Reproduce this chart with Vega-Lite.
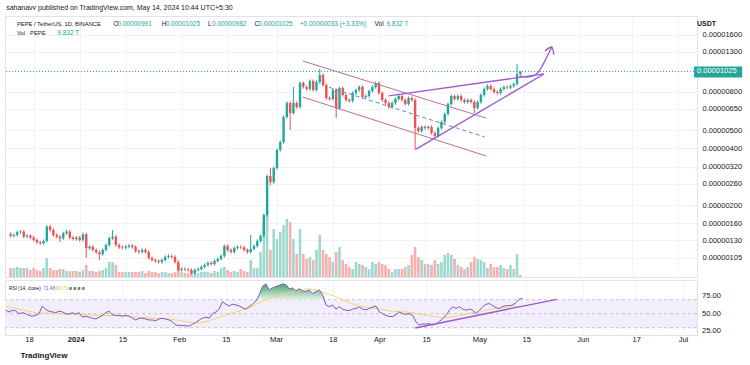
{
"$schema":"https://vega.github.io/schema/vega-lite/v6.json",
"background":"#ffffff",
"padding":{"left":3,"top":3,"right":2,"bottom":2},
"title":{"text":"sahanavv published on TradingView.com, May 14, 2024 10:44 UTC+5:30","anchor":"start","fontSize":7,"fontWeight":"normal","color":"#131722","font":"Liberation Sans","offset":5,"dx":3},
"config":{"font":"Liberation Sans","view":{"stroke":"#e0e3eb","strokeWidth":1},"axis":{"labelFont":"Liberation Sans","labelFontSize":7.5,"labelColor":"#131722","domainColor":"#e0e3eb","gridColor":"#f0f3fa","ticks":false,"title":null},"text":{"font":"Liberation Sans"}},
"spacing":1,
"resolve":{"scale":{"x":"independent"}},
"datasets":{
"k":[
{"d":"2023-12-11","o":1.408e-6,"h":1.436e-6,"l":1.350e-6,"c":1.378e-6,"v":45,"r":55,"m":60.5},
{"d":"2023-12-12","o":1.378e-6,"h":1.418e-6,"l":1.350e-6,"c":1.390e-6,"v":45,"r":52.5,"m":59.5},
{"d":"2023-12-13","o":1.390e-6,"h":1.467e-6,"l":1.362e-6,"c":1.438e-6,"v":50,"r":55,"m":58.5},
{"d":"2023-12-14","o":1.438e-6,"h":1.478e-6,"l":1.409e-6,"c":1.449e-6,"v":45,"r":54,"m":57.5},
{"d":"2023-12-15","o":1.449e-6,"h":1.478e-6,"l":1.335e-6,"c":1.362e-6,"v":45,"r":50,"m":56.5},
{"d":"2023-12-16","o":1.362e-6,"h":1.406e-6,"l":1.335e-6,"c":1.378e-6,"v":45,"r":51.5,"m":55.5},
{"d":"2023-12-17","o":1.378e-6,"h":1.406e-6,"l":1.319e-6,"c":1.346e-6,"v":35,"r":50,"m":54.5},
{"d":"2023-12-18","o":1.346e-6,"h":1.373e-6,"l":1.282e-6,"c":1.308e-6,"v":45,"r":47.5,"m":53.5},
{"d":"2023-12-19","o":1.308e-6,"h":1.334e-6,"l":1.246e-6,"c":1.271e-6,"v":35,"r":46.5,"m":52.5},
{"d":"2023-12-20","o":1.271e-6,"h":1.296e-6,"l":1.231e-6,"c":1.256e-6,"v":30,"r":47.5,"m":51.5},
{"d":"2023-12-21","o":1.256e-6,"h":1.318e-6,"l":1.231e-6,"c":1.292e-6,"v":45,"r":50,"m":51},
{"d":"2023-12-22","o":1.292e-6,"h":1.570e-6,"l":1.266e-6,"c":1.539e-6,"v":95,"r":61,"m":51},
{"d":"2023-12-23","o":1.539e-6,"h":1.570e-6,"l":1.448e-6,"c":1.478e-6,"v":45,"r":56,"m":50.8},
{"d":"2023-12-24","o":1.478e-6,"h":1.508e-6,"l":1.362e-6,"c":1.390e-6,"v":35,"r":53.5,"m":50.5},
{"d":"2023-12-25","o":1.390e-6,"h":1.418e-6,"l":1.335e-6,"c":1.362e-6,"v":35,"r":52.5,"m":50.2},
{"d":"2023-12-26","o":1.362e-6,"h":1.389e-6,"l":1.276e-6,"c":1.336e-6,"v":40,"r":51.5,"m":50},
{"d":"2023-12-27","o":1.336e-6,"h":1.448e-6,"l":1.309e-6,"c":1.420e-6,"v":40,"r":53.5,"m":49.8},
{"d":"2023-12-28","o":1.420e-6,"h":1.478e-6,"l":1.392e-6,"c":1.449e-6,"v":30,"r":52.5,"m":49.5},
{"d":"2023-12-29","o":1.449e-6,"h":1.478e-6,"l":1.319e-6,"c":1.346e-6,"v":30,"r":50,"m":49.2},
{"d":"2023-12-30","o":1.346e-6,"h":1.373e-6,"l":1.298e-6,"c":1.324e-6,"v":30,"r":49.5,"m":49},
{"d":"2023-12-31","o":1.324e-6,"h":1.373e-6,"l":1.298e-6,"c":1.346e-6,"v":30,"r":51.5,"m":48.8},
{"d":"2024-01-01","o":1.346e-6,"h":1.373e-6,"l":1.282e-6,"c":1.308e-6,"v":25,"r":49.5,"m":48.6},
{"d":"2024-01-02","o":1.308e-6,"h":1.431e-6,"l":1.282e-6,"c":1.403e-6,"v":35,"r":51.5,"m":48.5},
{"d":"2024-01-03","o":1.403e-6,"h":1.431e-6,"l":1.050e-6,"c":1.182e-6,"v":60,"r":45,"m":48.3},
{"d":"2024-01-04","o":1.182e-6,"h":1.229e-6,"l":1.158e-6,"c":1.205e-6,"v":30,"r":46.5,"m":48.2},
{"d":"2024-01-05","o":1.205e-6,"h":1.229e-6,"l":1.134e-6,"c":1.157e-6,"v":30,"r":45,"m":48},
{"d":"2024-01-06","o":1.157e-6,"h":1.180e-6,"l":1.103e-6,"c":1.126e-6,"v":25,"r":43.5,"m":47.8},
{"d":"2024-01-07","o":1.126e-6,"h":1.149e-6,"l":1.024e-6,"c":1.099e-6,"v":30,"r":42.5,"m":47.6},
{"d":"2024-01-08","o":1.099e-6,"h":1.180e-6,"l":1.077e-6,"c":1.157e-6,"v":35,"r":45,"m":47.5},
{"d":"2024-01-09","o":1.157e-6,"h":1.255e-6,"l":1.134e-6,"c":1.230e-6,"v":45,"r":47.5,"m":47.5},
{"d":"2024-01-10","o":1.230e-6,"h":1.363e-6,"l":1.205e-6,"c":1.336e-6,"v":75,"r":51.5,"m":47.5},
{"d":"2024-01-11","o":1.336e-6,"h":1.478e-6,"l":1.309e-6,"c":1.362e-6,"v":75,"r":53.5,"m":47.5},
{"d":"2024-01-12","o":1.362e-6,"h":1.389e-6,"l":1.205e-6,"c":1.230e-6,"v":60,"r":48.5,"m":47.4},
{"d":"2024-01-13","o":1.230e-6,"h":1.255e-6,"l":1.172e-6,"c":1.196e-6,"v":25,"r":47.5,"m":47.3},
{"d":"2024-01-14","o":1.196e-6,"h":1.220e-6,"l":1.166e-6,"c":1.190e-6,"v":25,"r":47.5,"m":47.2},
{"d":"2024-01-15","o":1.190e-6,"h":1.229e-6,"l":1.166e-6,"c":1.205e-6,"v":25,"r":46.5,"m":47},
{"d":"2024-01-16","o":1.205e-6,"h":1.244e-6,"l":1.181e-6,"c":1.220e-6,"v":25,"r":47.5,"m":46.6},
{"d":"2024-01-17","o":1.220e-6,"h":1.244e-6,"l":1.177e-6,"c":1.201e-6,"v":25,"r":46.5,"m":46.2},
{"d":"2024-01-18","o":1.201e-6,"h":1.225e-6,"l":1.120e-6,"c":1.143e-6,"v":25,"r":43.5,"m":45.8},
{"d":"2024-01-19","o":1.143e-6,"h":1.166e-6,"l":1.107e-6,"c":1.130e-6,"v":25,"r":41,"m":45.3},
{"d":"2024-01-20","o":1.130e-6,"h":1.180e-6,"l":1.107e-6,"c":1.157e-6,"v":30,"r":43.5,"m":45},
{"d":"2024-01-21","o":1.157e-6,"h":1.180e-6,"l":1.107e-6,"c":1.130e-6,"v":20,"r":43.5,"m":44.7},
{"d":"2024-01-22","o":1.130e-6,"h":1.153e-6,"l":1.029e-6,"c":1.050e-6,"v":30,"r":42.5,"m":44.4},
{"d":"2024-01-23","o":1.050e-6,"h":1.071e-6,"l":1.004e-6,"c":1.024e-6,"v":25,"r":41,"m":44},
{"d":"2024-01-24","o":1.024e-6,"h":1.044e-6,"l":9.92e-7,"c":1.012e-6,"v":25,"r":41,"m":43.7},
{"d":"2024-01-25","o":1.012e-6,"h":1.032e-6,"l":9.80e-7,"c":1.000e-6,"v":20,"r":40,"m":43.4},
{"d":"2024-01-26","o":1.000e-6,"h":1.044e-6,"l":9.80e-7,"c":1.024e-6,"v":25,"r":42.5,"m":43.1},
{"d":"2024-01-27","o":1.024e-6,"h":1.084e-6,"l":1.004e-6,"c":1.063e-6,"v":25,"r":43.5,"m":42.9},
{"d":"2024-01-28","o":1.063e-6,"h":1.098e-6,"l":1.042e-6,"c":1.076e-6,"v":20,"r":42.5,"m":42.7},
{"d":"2024-01-29","o":1.076e-6,"h":1.098e-6,"l":1.042e-6,"c":1.063e-6,"v":20,"r":41,"m":42.5},
{"d":"2024-01-30","o":1.063e-6,"h":1.084e-6,"l":9.80e-7,"c":1.000e-6,"v":25,"r":38.5,"m":41.8},
{"d":"2024-01-31","o":1.000e-6,"h":1.020e-6,"l":8.88e-7,"c":9.06e-7,"v":60,"r":33.5,"m":41},
{"d":"2024-02-01","o":9.06e-7,"h":9.36e-7,"l":8.88e-7,"c":9.18e-7,"v":25,"r":33.5,"m":40.2},
{"d":"2024-02-02","o":9.18e-7,"h":9.36e-7,"l":8.94e-7,"c":9.12e-7,"v":20,"r":33,"m":39.3},
{"d":"2024-02-03","o":9.12e-7,"h":9.30e-7,"l":8.88e-7,"c":9.06e-7,"v":20,"r":33,"m":38.5},
{"d":"2024-02-04","o":9.06e-7,"h":9.24e-7,"l":8.57e-7,"c":8.74e-7,"v":30,"r":32,"m":37.8},
{"d":"2024-02-05","o":8.74e-7,"h":9.24e-7,"l":8.57e-7,"c":9.06e-7,"v":20,"r":35,"m":37.2},
{"d":"2024-02-06","o":9.06e-7,"h":9.36e-7,"l":8.88e-7,"c":9.18e-7,"v":20,"r":37.5,"m":37},
{"d":"2024-02-07","o":9.18e-7,"h":9.60e-7,"l":9.00e-7,"c":9.41e-7,"v":25,"r":41,"m":37.2},
{"d":"2024-02-08","o":9.41e-7,"h":9.83e-7,"l":9.22e-7,"c":9.64e-7,"v":25,"r":43.5,"m":37.8},
{"d":"2024-02-09","o":9.64e-7,"h":1.008e-6,"l":9.45e-7,"c":9.88e-7,"v":25,"r":45,"m":38.8},
{"d":"2024-02-10","o":9.88e-7,"h":1.008e-6,"l":9.56e-7,"c":9.76e-7,"v":20,"r":43.5,"m":40},
{"d":"2024-02-11","o":9.76e-7,"h":1.032e-6,"l":9.56e-7,"c":1.012e-6,"v":30,"r":50,"m":41.5},
{"d":"2024-02-12","o":1.012e-6,"h":1.058e-6,"l":9.92e-7,"c":1.037e-6,"v":25,"r":52.5,"m":43},
{"d":"2024-02-13","o":1.037e-6,"h":1.098e-6,"l":1.016e-6,"c":1.076e-6,"v":45,"r":56.5,"m":45},
{"d":"2024-02-14","o":1.076e-6,"h":1.239e-6,"l":1.054e-6,"c":1.215e-6,"v":50,"r":67.2,"m":46.5},
{"d":"2024-02-15","o":1.215e-6,"h":1.239e-6,"l":1.134e-6,"c":1.157e-6,"v":35,"r":63.5,"m":48},
{"d":"2024-02-16","o":1.157e-6,"h":1.180e-6,"l":1.107e-6,"c":1.130e-6,"v":25,"r":61,"m":49.5},
{"d":"2024-02-17","o":1.130e-6,"h":1.210e-6,"l":1.107e-6,"c":1.186e-6,"v":30,"r":63.5,"m":51},
{"d":"2024-02-18","o":1.186e-6,"h":1.225e-6,"l":1.162e-6,"c":1.201e-6,"v":25,"r":62.5,"m":52.5},
{"d":"2024-02-19","o":1.201e-6,"h":1.225e-6,"l":1.171e-6,"c":1.195e-6,"v":40,"r":61,"m":54},
{"d":"2024-02-20","o":1.195e-6,"h":1.219e-6,"l":1.134e-6,"c":1.157e-6,"v":30,"r":58.5,"m":55.5},
{"d":"2024-02-21","o":1.157e-6,"h":1.180e-6,"l":1.107e-6,"c":1.130e-6,"v":25,"r":56.5,"m":57},
{"d":"2024-02-22","o":1.130e-6,"h":1.390e-6,"l":1.107e-6,"c":1.172e-6,"v":85,"r":60,"m":58.5},
{"d":"2024-02-23","o":1.172e-6,"h":1.239e-6,"l":1.149e-6,"c":1.215e-6,"v":45,"r":63.5,"m":61},
{"d":"2024-02-24","o":1.215e-6,"h":1.318e-6,"l":1.191e-6,"c":1.292e-6,"v":45,"r":68,"m":63,"ob":70},
{"d":"2024-02-25","o":1.292e-6,"h":1.401e-6,"l":1.266e-6,"c":1.374e-6,"v":125,"r":77,"m":65.5,"ob":77},
{"d":"2024-02-26","o":1.374e-6,"h":1.808e-6,"l":1.347e-6,"c":1.773e-6,"v":265,"r":89,"m":68,"ob":89},
{"d":"2024-02-27","o":1.773e-6,"h":2.913e-6,"l":1.738e-6,"c":2.856e-6,"v":335,"r":92.5,"m":70,"ob":92.5},
{"d":"2024-02-28","o":2.856e-6,"h":3.149e-6,"l":2.550e-6,"c":2.654e-6,"v":135,"r":84,"m":72,"ob":84},
{"d":"2024-02-29","o":2.654e-6,"h":3.212e-6,"l":2.601e-6,"c":3.149e-6,"v":240,"r":87,"m":73.5,"ob":87},
{"d":"2024-03-01","o":3.149e-6,"h":4.002e-6,"l":3.086e-6,"c":3.924e-6,"v":190,"r":89,"m":75,"ob":89},
{"d":"2024-03-02","o":3.924e-6,"h":4.414e-6,"l":3.846e-6,"c":4.327e-6,"v":225,"r":90.5,"m":76.5,"ob":90.5},
{"d":"2024-03-03","o":4.327e-6,"h":5.990e-6,"l":4.240e-6,"c":5.873e-6,"v":260,"r":92.5,"m":77.8,"ob":92.5},
{"d":"2024-03-04","o":5.873e-6,"h":7.108e-6,"l":5.756e-6,"c":6.969e-6,"v":290,"r":91.5,"m":79,"ob":91.5},
{"d":"2024-03-05","o":6.969e-6,"h":7.108e-6,"l":5.010e-6,"c":6.167e-6,"v":275,"r":85.5,"m":80,"ob":85.5},
{"d":"2024-03-06","o":6.167e-6,"h":8.474e-6,"l":6.044e-6,"c":6.969e-6,"v":190,"r":86.5,"m":81,"ob":86.5},
{"d":"2024-03-07","o":6.969e-6,"h":7.108e-6,"l":6.504e-6,"c":6.637e-6,"v":115,"r":82.5,"m":82,"ob":82.5},
{"d":"2024-03-08","o":6.637e-6,"h":9.077e-6,"l":6.504e-6,"c":8.899e-6,"v":240,"r":85.5,"m":83,"ob":85.5},
{"d":"2024-03-09","o":8.899e-6,"h":9.077e-6,"l":8.305e-6,"c":8.474e-6,"v":115,"r":82.5,"m":84,"ob":82.5},
{"d":"2024-03-10","o":8.474e-6,"h":8.643e-6,"l":8.104e-6,"c":8.269e-6,"v":90,"r":81.5,"m":84.8,"ob":81.5},
{"d":"2024-03-11","o":8.269e-6,"h":9.302e-6,"l":8.104e-6,"c":9.120e-6,"v":100,"r":84,"m":85.3,"ob":84},
{"d":"2024-03-12","o":9.120e-6,"h":9.302e-6,"l":8.006e-6,"c":8.169e-6,"v":85,"r":79,"m":84.8,"ob":79},
{"d":"2024-03-13","o":8.169e-6,"h":9.189e-6,"l":8.006e-6,"c":9.009e-6,"v":135,"r":81.5,"m":84,"ob":81.5},
{"d":"2024-03-14","o":9.009e-6,"h":1.0561e-5,"l":8.829e-6,"c":9.814e-6,"v":210,"r":84,"m":82.3,"ob":84},
{"d":"2024-03-15","o":9.814e-6,"h":1.001e-5,"l":8.510e-6,"c":8.684e-6,"v":135,"r":77,"m":80.5,"ob":77},
{"d":"2024-03-16","o":8.684e-6,"h":8.858e-6,"l":7.260e-6,"c":7.408e-6,"v":115,"r":62.5,"m":79,"ob":70},
{"d":"2024-03-17","o":7.408e-6,"h":7.556e-6,"l":7.172e-6,"c":7.318e-6,"v":100,"r":60,"m":77.5},
{"d":"2024-03-18","o":7.318e-6,"h":8.332e-6,"l":7.172e-6,"c":8.169e-6,"v":75,"r":62.5,"m":76},
{"d":"2024-03-19","o":8.169e-6,"h":8.332e-6,"l":5.801e-6,"c":6.556e-6,"v":125,"r":56.5,"m":74},
{"d":"2024-03-20","o":6.556e-6,"h":8.538e-6,"l":6.425e-6,"c":8.371e-6,"v":150,"r":60,"m":72},
{"d":"2024-03-21","o":8.371e-6,"h":8.538e-6,"l":7.531e-6,"c":7.685e-6,"v":85,"r":56.5,"m":70},
{"d":"2024-03-22","o":7.685e-6,"h":7.839e-6,"l":7.084e-6,"c":7.229e-6,"v":65,"r":55,"m":68},
{"d":"2024-03-23","o":7.229e-6,"h":7.374e-6,"l":7.007e-6,"c":7.150e-6,"v":50,"r":54.5,"m":66},
{"d":"2024-03-24","o":7.150e-6,"h":8.033e-6,"l":7.007e-6,"c":7.875e-6,"v":40,"r":56.5,"m":64},
{"d":"2024-03-25","o":7.875e-6,"h":8.332e-6,"l":7.718e-6,"c":8.169e-6,"v":75,"r":57.5,"m":62.5},
{"d":"2024-03-26","o":8.169e-6,"h":8.643e-6,"l":8.006e-6,"c":8.474e-6,"v":65,"r":59.5,"m":61.2},
{"d":"2024-03-27","o":8.474e-6,"h":8.643e-6,"l":7.350e-6,"c":7.500e-6,"v":60,"r":56.5,"m":60},
{"d":"2024-03-28","o":7.500e-6,"h":7.744e-6,"l":7.350e-6,"c":7.592e-6,"v":50,"r":55.5,"m":59.2},
{"d":"2024-03-29","o":7.592e-6,"h":8.231e-6,"l":7.440e-6,"c":8.070e-6,"v":40,"r":57.5,"m":58.5},
{"d":"2024-03-30","o":8.070e-6,"h":8.643e-6,"l":7.909e-6,"c":8.474e-6,"v":75,"r":59.5,"m":58},
{"d":"2024-03-31","o":8.474e-6,"h":9.077e-6,"l":8.305e-6,"c":8.899e-6,"v":65,"r":61,"m":57.5},
{"d":"2024-04-01","o":8.899e-6,"h":9.077e-6,"l":7.718e-6,"c":7.875e-6,"v":75,"r":52.5,"m":56.8},
{"d":"2024-04-02","o":7.875e-6,"h":8.033e-6,"l":7.084e-6,"c":7.229e-6,"v":65,"r":50,"m":56},
{"d":"2024-04-03","o":7.229e-6,"h":7.374e-6,"l":6.830e-6,"c":6.969e-6,"v":60,"r":47.6,"m":55},
{"d":"2024-04-04","o":6.969e-6,"h":7.108e-6,"l":6.504e-6,"c":6.637e-6,"v":40,"r":46,"m":54},
{"d":"2024-04-05","o":6.637e-6,"h":7.108e-6,"l":6.504e-6,"c":6.969e-6,"v":25,"r":46,"m":53.5},
{"d":"2024-04-06","o":6.969e-6,"h":7.464e-6,"l":6.830e-6,"c":7.318e-6,"v":40,"r":48.5,"m":53.2},
{"d":"2024-04-07","o":7.318e-6,"h":7.744e-6,"l":7.172e-6,"c":7.592e-6,"v":40,"r":52.5,"m":53},
{"d":"2024-04-08","o":7.592e-6,"h":7.744e-6,"l":7.084e-6,"c":7.229e-6,"v":40,"r":50,"m":52.8},
{"d":"2024-04-09","o":7.229e-6,"h":7.374e-6,"l":6.747e-6,"c":6.885e-6,"v":50,"r":49,"m":52.5},
{"d":"2024-04-10","o":6.885e-6,"h":7.556e-6,"l":6.747e-6,"c":7.408e-6,"v":60,"r":50,"m":51.8},
{"d":"2024-04-11","o":7.408e-6,"h":7.556e-6,"l":7.084e-6,"c":7.229e-6,"v":110,"r":47.5,"m":51},
{"d":"2024-04-12","o":7.229e-6,"h":7.374e-6,"l":3.924e-6,"c":5.134e-6,"v":150,"r":38,"m":50.2},
{"d":"2024-04-13","o":5.134e-6,"h":5.237e-6,"l":4.850e-6,"c":4.949e-6,"v":100,"r":34,"m":49.5},
{"d":"2024-04-14","o":4.949e-6,"h":5.302e-6,"l":4.850e-6,"c":5.198e-6,"v":85,"r":35.5,"m":48.5},
{"d":"2024-04-15","o":5.198e-6,"h":5.302e-6,"l":5.031e-6,"c":5.134e-6,"v":65,"r":35,"m":47.8},
{"d":"2024-04-16","o":5.134e-6,"h":5.302e-6,"l":5.031e-6,"c":5.198e-6,"v":65,"r":36,"m":47},
{"d":"2024-04-17","o":5.198e-6,"h":5.302e-6,"l":4.733e-6,"c":4.830e-6,"v":60,"r":34,"m":46.3},
{"d":"2024-04-18","o":4.830e-6,"h":4.927e-6,"l":4.489e-6,"c":4.656e-6,"v":85,"r":35.5,"m":45.6},
{"d":"2024-04-19","o":4.656e-6,"h":5.237e-6,"l":4.563e-6,"c":5.134e-6,"v":65,"r":39,"m":45},
{"d":"2024-04-20","o":5.134e-6,"h":5.634e-6,"l":5.031e-6,"c":5.524e-6,"v":75,"r":43,"m":44.8},
{"d":"2024-04-21","o":5.524e-6,"h":6.214e-6,"l":5.414e-6,"c":6.092e-6,"v":110,"r":47.5,"m":44.8},
{"d":"2024-04-22","o":6.092e-6,"h":7.023e-6,"l":5.970e-6,"c":6.885e-6,"v":120,"r":55,"m":45},
{"d":"2024-04-23","o":6.885e-6,"h":7.744e-6,"l":6.747e-6,"c":7.592e-6,"v":110,"r":60,"m":45.6},
{"d":"2024-04-24","o":7.592e-6,"h":7.744e-6,"l":7.172e-6,"c":7.318e-6,"v":90,"r":57.5,"m":46.2},
{"d":"2024-04-25","o":7.318e-6,"h":7.744e-6,"l":7.172e-6,"c":7.592e-6,"v":60,"r":60,"m":47.5},
{"d":"2024-04-26","o":7.592e-6,"h":7.744e-6,"l":7.084e-6,"c":7.229e-6,"v":50,"r":56.5,"m":48.5},
{"d":"2024-04-27","o":7.229e-6,"h":7.374e-6,"l":6.914e-6,"c":7.055e-6,"v":40,"r":55,"m":49.5},
{"d":"2024-04-28","o":7.055e-6,"h":7.374e-6,"l":6.914e-6,"c":7.229e-6,"v":50,"r":56.5,"m":50.5},
{"d":"2024-04-29","o":7.229e-6,"h":7.374e-6,"l":6.914e-6,"c":7.055e-6,"v":75,"r":55,"m":51.5},
{"d":"2024-04-30","o":7.055e-6,"h":7.196e-6,"l":6.167e-6,"c":6.556e-6,"v":100,"r":50,"m":52.5},
{"d":"2024-05-01","o":6.556e-6,"h":7.196e-6,"l":6.425e-6,"c":7.055e-6,"v":90,"r":55,"m":53.5},
{"d":"2024-05-02","o":7.055e-6,"h":7.839e-6,"l":6.914e-6,"c":7.685e-6,"v":85,"r":60,"m":54.3},
{"d":"2024-05-03","o":7.685e-6,"h":8.434e-6,"l":7.531e-6,"c":8.269e-6,"v":75,"r":63.5,"m":55.2},
{"d":"2024-05-04","o":8.269e-6,"h":8.751e-6,"l":8.104e-6,"c":8.579e-6,"v":45,"r":64.5,"m":56},
{"d":"2024-05-05","o":8.579e-6,"h":8.751e-6,"l":8.104e-6,"c":8.269e-6,"v":65,"r":61.5,"m":56.6},
{"d":"2024-05-06","o":8.269e-6,"h":8.434e-6,"l":7.813e-6,"c":7.972e-6,"v":50,"r":58.5,"m":57.2},
{"d":"2024-05-07","o":7.972e-6,"h":8.131e-6,"l":7.718e-6,"c":7.875e-6,"v":50,"r":57.5,"m":57.8},
{"d":"2024-05-08","o":7.875e-6,"h":8.434e-6,"l":7.718e-6,"c":8.269e-6,"v":60,"r":60.5,"m":58.4},
{"d":"2024-05-09","o":8.269e-6,"h":8.643e-6,"l":8.104e-6,"c":8.474e-6,"v":45,"r":61.5,"m":59},
{"d":"2024-05-10","o":8.474e-6,"h":8.643e-6,"l":8.252e-6,"c":8.420e-6,"v":40,"r":61.5,"m":59.4},
{"d":"2024-05-11","o":8.420e-6,"h":8.751e-6,"l":8.252e-6,"c":8.579e-6,"v":60,"r":62.5,"m":59.8},
{"d":"2024-05-12","o":8.579e-6,"h":8.967e-6,"l":8.407e-6,"c":8.791e-6,"v":40,"r":66,"m":60.2,"ob":70},
{"d":"2024-05-13","o":8.791e-6,"h":1.1226e-5,"l":8.615e-6,"c":9.910e-6,"v":115,"r":71,"m":60.5,"ob":71},
{"d":"2024-05-14","o":9.910e-6,"h":1.025e-5,"l":9.820e-6,"c":1.025e-5,"v":9.832,"r":71.48,"m":60.79,"ob":71.48}
],
"dl":[
{"g":"chU","o":0,"d":"2024-03-08T19:00:00Z","p":1.165e-5},
{"g":"chU","o":1,"d":"2024-05-03T14:00:00Z","p":5.80e-6},
{"g":"chL","o":0,"d":"2024-03-08T19:00:00Z","p":7.50e-6},
{"g":"chL","o":1,"d":"2024-05-03T14:00:00Z","p":3.65e-6},
{"g":"mid","o":0,"d":"2024-03-16T19:00:00Z","p":8.45e-6},
{"g":"mid","o":1,"d":"2024-05-03T05:00:00Z","p":4.60e-6},
{"g":"wU","o":0,"d":"2024-04-03T22:00:00Z","p":7.60e-6},
{"g":"wU","o":1,"d":"2024-05-21T05:00:00Z","p":9.94e-6},
{"g":"wL","o":0,"d":"2024-04-12T07:00:00Z","p":3.97e-6},
{"g":"wL","o":1,"d":"2024-05-21T05:00:00Z","p":9.94e-6},
{"g":"arr","o":0,"d":"2024-05-13T17:00:00Z","p":9.70e-6},
{"g":"arr","o":1,"d":"2024-05-16T02:00:00Z","p":9.58e-6},
{"g":"arr","o":2,"d":"2024-05-18T05:00:00Z","p":9.76e-6},
{"g":"arr","o":3,"d":"2024-05-20T02:00:00Z","p":1.056e-5},
{"g":"arr","o":4,"d":"2024-05-21T22:00:00Z","p":1.208e-5},
{"g":"arr","o":5,"d":"2024-05-23T14:00:00Z","p":1.382e-5},
{"g":"head","o":0,"d":"2024-05-21T12:00:00Z","p":1.316e-5},
{"g":"head","o":1,"d":"2024-05-23T14:00:00Z","p":1.382e-5},
{"g":"head","o":2,"d":"2024-05-24T05:00:00Z","p":1.254e-5}
],
"lb":[
{"d":"2023-12-12T21:45:00Z","p":1.823e-5,"t":"PEPE / TetherUS, 1D, BINANCE","k":"n"},
{"d":"2024-01-11T06:45:00Z","p":1.823e-5,"t":"O","k":"d"},
{"d":"2024-01-12T11:15:00Z","p":1.823e-5,"t":"0.00000991","k":"v"},
{"d":"2024-01-25T22:48:00Z","p":1.823e-5,"t":"H","k":"d"},
{"d":"2024-01-27T03:36:00Z","p":1.823e-5,"t":"0.00001025","k":"v"},
{"d":"2024-02-09T01:00:00Z","p":1.823e-5,"t":"L","k":"d"},
{"d":"2024-02-10T05:45:00Z","p":1.823e-5,"t":"0.00000982","k":"v"},
{"d":"2024-02-23T03:00:00Z","p":1.823e-5,"t":"C","k":"d"},
{"d":"2024-02-24T08:00:00Z","p":1.823e-5,"t":"0.00001025","k":"v"},
{"d":"2024-03-07T22:00:00Z","p":1.823e-5,"t":"+0.00000033 (+3.33%)","k":"v"},
{"d":"2024-03-30T16:20:00Z","p":1.823e-5,"t":"Vol","k":"d"},
{"d":"2024-04-03T06:45:00Z","p":1.823e-5,"t":"9.832 T","k":"v"},
{"d":"2023-12-12T21:45:00Z","p":1.634e-5,"t":"Vol · PEPE","k":"n"},
{"d":"2023-12-25T04:30:00Z","p":1.634e-5,"t":"9.832 T","k":"v"}
],
"rl":[
{"d":"2023-12-12T00:15:00Z","r":85.7,"t":"RSI (14, close)","k":"d"},
{"d":"2023-12-22T06:00:00Z","r":85.7,"t":"71.48","k":"rsi"},
{"d":"2023-12-26T03:00:00Z","r":85.7,"t":"60.79","k":"ma"},
{"d":"2023-12-29T23:45:00Z","r":85.7,"t":"ø ø ø ø","k":"d"}
],
"ra":[
{"d":"2024-07-06T17:00:00Z","r":75,"t":"75.00"},
{"d":"2024-07-06T17:00:00Z","r":50,"t":"50.00"},
{"d":"2024-07-06T17:00:00Z","r":25,"t":"25.00"}
]
},
"vconcat":[
{
"width":692,"height":261,
"data":{"name":"k"},
"resolve":{"scale":{"y":"independent"}},
"layer":[
{"mark":{"type":"bar","size":2.6},
 "encoding":{
  "x":{"field":"d","type":"temporal","scale":{"type":"utc","domain":[{"year":2023,"month":12,"date":10,"hours":19,"minutes":24,"utc":true},{"year":2024,"month":7,"date":5,"hours":4,"minutes":48,"utc":true}]},
   "axis":{"values":[{"year":2023,"month":12,"date":18,"utc":true},{"year":2024,"month":1,"date":1,"utc":true},{"year":2024,"month":1,"date":15,"utc":true},{"year":2024,"month":2,"date":1,"utc":true},{"year":2024,"month":2,"date":15,"utc":true},{"year":2024,"month":3,"date":1,"utc":true},{"year":2024,"month":3,"date":18,"utc":true},{"year":2024,"month":4,"date":1,"utc":true},{"year":2024,"month":4,"date":15,"utc":true},{"year":2024,"month":5,"date":1,"utc":true},{"year":2024,"month":5,"date":15,"utc":true},{"year":2024,"month":6,"date":1,"utc":true},{"year":2024,"month":6,"date":17,"utc":true},{"year":2024,"month":7,"date":1,"utc":true}],"labels":false,"domain":false,"ticks":false,"grid":true,"gridColor":"#f3f4f7","title":null}},
  "y":{"field":"v","type":"quantitative","scale":{"domain":[0,1305],"nice":false,"zero":true},"axis":null},
  "color":{"condition":{"test":"datum.c >= datum.o","value":"#9fd8cf"},"value":"#f7b0ae"}
 }},
{"layer":[
 {"mark":{"type":"rule","strokeWidth":1},
  "encoding":{
   "x":{"field":"d","type":"temporal","scale":{"type":"utc","domain":[{"year":2023,"month":12,"date":10,"hours":19,"minutes":24,"utc":true},{"year":2024,"month":7,"date":5,"hours":4,"minutes":48,"utc":true}]}},
   "y":{"field":"l","type":"quantitative","scale":{"type":"log","domain":[8.32e-7,2.018e-5],"nice":false},
    "axis":{"orient":"right","values":[1.05e-6,1.3e-6,1.6e-6,2e-6,2.6e-6,3.2e-6,4e-6,5e-6,6.5e-6,8e-6,1.3e-5,1.6e-5],"format":".8f","grid":true,"gridColor":"#f0f3fa","labelPadding":5,"labelOverlap":false,"domain":true,"domainColor":"#e0e3eb","ticks":false,"title":null}},
   "y2":{"field":"h"},
   "color":{"condition":{"test":"datum.c >= datum.o","value":"#26a69a"},"value":"#ef5350"}
  }},
 {"mark":{"type":"bar","size":2.4},
  "encoding":{
   "x":{"field":"d","type":"temporal"},
   "y":{"field":"o","type":"quantitative"},
   "y2":{"field":"c"},
   "color":{"condition":{"test":"datum.c >= datum.o","value":"#26a69a"},"value":"#ef5350"}
  }},
 {"data":{"values":[{}]},"mark":{"type":"rule","color":"#26a69a","strokeDash":[1,2],"strokeWidth":1},
  "encoding":{"y":{"datum":1.025e-5,"type":"quantitative"}}},
 {"data":{"name":"dl"},"transform":[{"filter":"datum.g=='chU' || datum.g=='chL'"}],
  "mark":{"type":"line","color":"#b8709a","strokeWidth":1},
  "encoding":{
   "x":{"field":"d","type":"temporal"},
   "y":{"field":"p","type":"quantitative"},
   "detail":{"field":"g"},"order":{"field":"o"}}},
 {"data":{"name":"dl"},"transform":[{"filter":"datum.g=='mid'"}],
  "mark":{"type":"line","color":"#5b8bd0","strokeWidth":1,"strokeDash":[4,3]},
  "encoding":{
   "x":{"field":"d","type":"temporal"},
   "y":{"field":"p","type":"quantitative"},
   "detail":{"field":"g"},"order":{"field":"o"}}},
 {"data":{"name":"dl"},"transform":[{"filter":"datum.g=='wU' || datum.g=='wL' || datum.g=='arr' || datum.g=='head'"}],
  "mark":{"type":"line","color":"#9c59d1","strokeWidth":1.3,"interpolate":"monotone"},
  "encoding":{
   "x":{"field":"d","type":"temporal"},
   "y":{"field":"p","type":"quantitative"},
   "detail":{"field":"g"},"order":{"field":"o"}}},
 {"data":{"name":"lb"},
  "mark":{"type":"text","align":"left","baseline":"middle"},
  "encoding":{
   "x":{"field":"d","type":"temporal"},
   "y":{"field":"p","type":"quantitative"},
   "text":{"field":"t"},
   "size":{"condition":{"test":"datum.k=='n'","value":5.8},"value":6.5},
   "color":{"condition":{"test":"datum.k=='v'","value":"#26a69a"},"value":"#131722"}}},
 {"data":{"values":[{"a":"2024-07-05T18:40:00Z","b":"2024-07-20T11:00:00Z","lo":9.52e-6,"hi":1.089e-5}]},
  "mark":{"type":"rect","color":"#26a69a"},
  "encoding":{
   "x":{"field":"a","type":"temporal"},
   "x2":{"field":"b"},
   "y":{"field":"lo","type":"quantitative"},
   "y2":{"field":"hi"}}},
 {"data":{"values":[{"d":"2024-07-06T17:00:00Z","p":1.025e-5,"t":"0.00001025"}]},
  "mark":{"type":"text","align":"left","baseline":"middle","fontSize":7.5,"color":"#ffffff"},
  "encoding":{
   "x":{"field":"d","type":"temporal"},
   "y":{"field":"p","type":"quantitative"},
   "text":{"field":"t"}}},
 {"data":{"values":[{"d":"2024-07-06T17:00:00Z","p":1.83e-5,"t":"USDT"}]},
  "mark":{"type":"text","align":"left","baseline":"middle","fontSize":7,"fontWeight":"bold","color":"#131722"},
  "encoding":{
   "x":{"field":"d","type":"temporal"},
   "y":{"field":"p","type":"quantitative"},
   "text":{"field":"t"}}}
]}
]
},
{
"width":692,"height":55,
"data":{"name":"k"},
"layer":[
 {"data":{"values":[{}]},"mark":{"type":"rect","color":"#f2eefb"},
  "encoding":{"y":{"datum":70,"type":"quantitative","scale":{"domain":[19.6,98.1],"nice":false,"zero":false},
    "axis":{"orient":"right","values":[25,50,75],"labels":false,"grid":false,"domain":true,"domainColor":"#e0e3eb","ticks":false,"title":null}},"y2":{"datum":30}}},
 {"data":{"values":[{"lv":30},{"lv":50},{"lv":70}]},"mark":{"type":"rule","strokeDash":[3,3],"color":"#b2b5be","strokeWidth":0.8},
  "encoding":{"y":{"field":"lv","type":"quantitative"}}},
 {"transform":[{"filter":"isValid(datum.ob)"}],
  "mark":{"type":"area","opacity":0.95,"fill":{"gradient":"linear","x1":0,"y1":0,"x2":0,"y2":1,"stops":[{"offset":0,"color":"#3d9e62"},{"offset":1,"color":"#e4f3e8"}]}},
  "encoding":{
   "x":{"field":"d","type":"temporal","scale":{"type":"utc","domain":[{"year":2023,"month":12,"date":10,"hours":19,"minutes":24,"utc":true},{"year":2024,"month":7,"date":5,"hours":4,"minutes":48,"utc":true}]}},
   "y":{"field":"ob","type":"quantitative"},
   "y2":{"datum":70}}},
 {"mark":{"type":"line","color":"#f2d56e","strokeWidth":1},
  "encoding":{
   "x":{"field":"d","type":"temporal"},
   "y":{"field":"m","type":"quantitative"}}},
 {"mark":{"type":"line","color":"#7e57c2","strokeWidth":1},
  "encoding":{
   "x":{"field":"d","type":"temporal",
    "axis":{"values":[{"year":2023,"month":12,"date":18,"utc":true},{"year":2024,"month":1,"date":1,"utc":true},{"year":2024,"month":1,"date":15,"utc":true},{"year":2024,"month":2,"date":1,"utc":true},{"year":2024,"month":2,"date":15,"utc":true},{"year":2024,"month":3,"date":1,"utc":true},{"year":2024,"month":3,"date":18,"utc":true},{"year":2024,"month":4,"date":1,"utc":true},{"year":2024,"month":4,"date":15,"utc":true},{"year":2024,"month":5,"date":1,"utc":true},{"year":2024,"month":5,"date":15,"utc":true},{"year":2024,"month":6,"date":1,"utc":true},{"year":2024,"month":6,"date":17,"utc":true},{"year":2024,"month":7,"date":1,"utc":true}],
     "labelExpr":"utcdate(datum.value)==1 ? (utcmonth(datum.value)==0 ? utcFormat(datum.value,'%Y') : utcFormat(datum.value,'%b')) : utcFormat(datum.value,'%-d')",
     "labelFontWeight":{"condition":{"test":"utcmonth(datum.value)==0 && utcdate(datum.value)==1","value":"bold"},"value":"normal"},
     "labelPadding":0,"labelOverlap":false,"grid":true,"gridColor":"#f3f4f7","domain":true,"domainColor":"#e0e3eb","ticks":false,
     "title":"TradingView","titleAnchor":"start","titleAlign":"left","titleX":15,"titleFontSize":8,"titleFontWeight":"bold","titleColor":"#131722","titlePadding":9}},
   "y":{"field":"r","type":"quantitative"}}},
 {"data":{"values":[{"d":"2024-04-11T18:00:00Z","r":29.6},{"d":"2024-05-24T05:00:00Z","r":70.6}]},
  "mark":{"type":"line","color":"#9c59d1","strokeWidth":1.3},
  "encoding":{
   "x":{"field":"d","type":"temporal"},
   "y":{"field":"r","type":"quantitative"}}},
 {"data":{"name":"rl"},
  "mark":{"type":"text","align":"left","baseline":"middle","fontSize":4.8},
  "encoding":{
   "x":{"field":"d","type":"temporal"},
   "y":{"field":"r","type":"quantitative"},
   "text":{"field":"t"},
   "color":{"condition":[{"test":"datum.k=='rsi'","value":"#7e57c2"},{"test":"datum.k=='ma'","value":"#e5c04a"}],"value":"#131722"}}},
 {"data":{"name":"ra"},
  "mark":{"type":"text","align":"left","baseline":"middle","fontSize":7.5,"color":"#131722"},
  "encoding":{
   "x":{"field":"d","type":"temporal"},
   "y":{"field":"r","type":"quantitative"},
   "text":{"field":"t"}}}
]
}
]
}
